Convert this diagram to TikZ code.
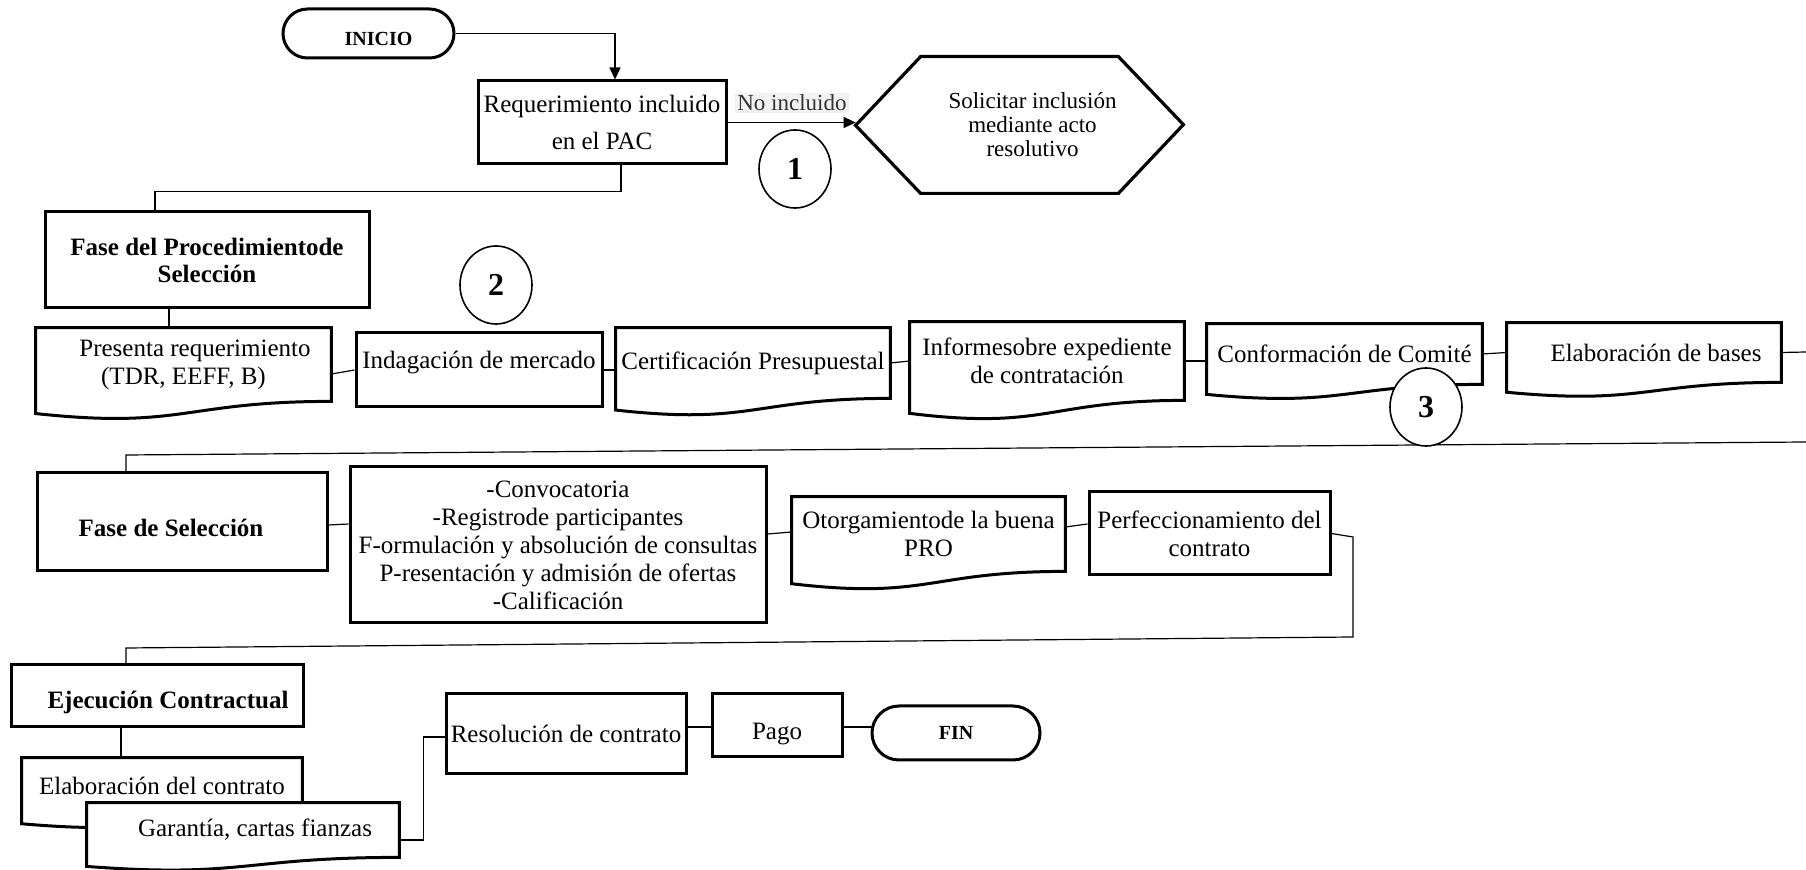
\documentclass[tikz,border=0pt]{standalone}
\usepackage{fontspec}
\setmainfont{Liberation Serif}
\usetikzlibrary{arrows.meta,calc,shapes.geometric,shapes.misc,backgrounds}

\begin{document}
\begin{tikzpicture}[x=0.5pt,y=-0.5pt,
	dims/.style 2 args={minimum width=#1,minimum height=#2},
	box/.style={draw,line width=1.5pt,inner sep=1pt,align=center,font=\fontsize{12.5}{14}\selectfont},
	docbox/.style={inner sep=1pt,align=center,font=\fontsize{12.5}{14}\selectfont},
	docline/.style={draw,fill=white,line width=1.5pt},
	term/.style={rounded rectangle,draw,line width=1.5pt,inner sep=1pt,font=\fontsize{10}{12}\selectfont\bfseries},
	num/.style={ellipse,draw,fill=white,line width=0.8pt,minimum width=36pt,minimum height=39pt,inner sep=0pt,font=\fontsize{16}{16}\selectfont\bfseries},
	link/.style={line width=0.6pt},
	arrow/.style={line width=0.7pt,-{Triangle[length=6pt,width=5.5pt]}}]
	\useasboundingbox (0,0) rectangle (1806,870);

	% inicio
	\node [term,dims={87.5pt}{24.5pt},text height=14pt,text depth=2pt] (inicio) at (368.5,33.5) {\hspace*{10pt}INICIO};
	\node [box,dims={124pt}{41.5pt},font=\fontsize{12.5}{18.5}\selectfont] (req) at (602,122.5) {Requerimiento incluido\\en el PAC};
	\node [align=center,inner sep=0pt,dims={98.5pt}{68pt},font=\fontsize{11.5}{12}\selectfont] (solic) at (1019.5,125) {\hspace*{13pt}Solicitar inclusión\\\hspace*{13pt}mediante acto\\\hspace*{13pt}resolutivo};
	\draw [line width=1.6pt] (solic.north west) -- (solic.north east) -- ++(65,68) -- (solic.south east) -- (solic.south west) -- ++(-65,-68) -- cycle;
	\coordinate (tip) at ([xshift=-32.5pt]solic.west);
	\node [fill=black!5,text=black!80,inner sep=1pt,font=\fontsize{11.5}{13}\selectfont] (noinc) at (792,103) {No incluido};
	\draw [arrow] (inicio.east) -| ([xshift=6.5pt]req.north);
	\draw [arrow] (req.east) -- (req.east -| tip);
	\node [num] (one) at (795,169) {1};

	% fase del procedimiento
	\node [box,dims={162pt}{48pt},font=\fontsize{12.5}{13.5}\selectfont\bfseries] (fproc) at (207,260) {Fase del Procedimientode\\Selección};
	\node [num] (two) at (496,285) {2};
	\node [docbox,dims={147.5pt}{36.5pt}] (pres) at (183.5,364.5) {\hspace*{11.5pt}Presenta requerimiento\\(TDR, EEFF, B)};
	\node [box,dims={123pt}{37pt},text height=9pt,text depth=10pt] (indag) at (479,370) {Indagación de mercado};
	\node [docbox,dims={137pt}{35pt}] (cert) at (753,363) {Certificación Presupuestal};
	\node [docbox,dims={137pt}{39pt}] (inf) at (1047,361) {Informesobre expediente\\de contratación};
	\node [docbox,dims={137.5pt}{30pt}] (conf) at (1344.5,354) {Conformación de Comité};
	\node [docbox,dims={137pt}{29.5pt}] (elab) at (1644,352.5) {\hspace*{12pt}Elaboración de bases};
	\coordinate (rimA) at (1806,352);
	\coordinate (rimB) at (1806,442);
	\coordinate (bendB) at (126,455);
	\draw [link] ([xshift=9.5pt]req.south) -- ++(0,26) -| ([xshift=-26pt]fproc.north);
	\draw [link] ([xshift=-19pt]fproc.south) -- ([xshift=-19pt]fproc.south |- pres.north);
	\draw [link] ([yshift=-4.75pt]pres.east) -- (indag.west);
	\draw [link] (indag.east) -- (indag.east -| cert.west);
	\draw [link] (cert.east) -- (inf.west);
	\draw [link] (inf.east) -- ([yshift=-3.5pt]conf.west);
	\draw [link] (conf.east) -- (elab.west);
	\draw [link] (elab.east) -- (rimA);

	% fase de seleccion
	\node [box,dims={145pt}{49pt},font=\fontsize{12.5}{14}\selectfont\bfseries,text height=17pt,text depth=2pt] (fsel) at (182,522) {Fase de Selección\hspace*{11pt}};
	\node [box,dims={208pt}{78pt}] (conv) at (558,545) {-Convocatoria\\-Registrode participantes\\F-ormulación y absolución de consultas\\P-resentación y admisión de ofertas\\-Calificación};
	\node [docbox,dims={136.5pt}{37pt}] (otor) at (928.5,534) {Otorgamientode la buena\\PRO};
	\node [box,dims={120.5pt}{41.5pt}] (perf) at (1209.5,533.5) {Perfeccionamiento del\\contrato};
	\coordinate (bendC) at (1353,537);
	\coordinate (bendD) at (1353,637);
	\coordinate (bendE) at (126,648);
	\draw [link] (rimB) -- (bendB) -- (bendB |- fsel.north);
	\draw [link] ([yshift=-1.5pt]fsel.east) -- ([yshift=10.5pt]conv.west);
	\draw [link] ([yshift=5.5pt]conv.east) -- ([yshift=1pt]otor.west);
	\draw [link] ([yshift=3.5pt]otor.east) -- ([yshift=4.75pt]perf.west);

	% ejecucion
	\node [box,dims={146pt}{31pt},font=\fontsize{12.5}{14}\selectfont\bfseries,text height=15pt,text depth=2pt] (ejec) at (157,696) {\hspace*{11pt}Ejecución Contractual};
	\node [docbox,dims={140pt}{28pt}] (elabc) at (162,786) {Elaboración del contrato};
	\node [docbox,dims={156pt}{27pt}] (gar) at (243,830) {\hspace*{12pt}Garantía, cartas fianzas};
	\node [box,dims={120pt}{40pt}] (res) at (566,734) {Resolución de contrato};
	\node [box,dims={65pt}{31.5pt},text height=16.5pt,text depth=2pt] (pago) at (777,725.5) {Pago};
	\node [term,dims={86pt}{27pt}] (fin) at (956,733) {FIN};
	\draw [link] (perf.east) -- (bendC) -- (bendD) -- (bendE) -- (bendE |- ejec.north);
	\draw [link] ([xshift=-18pt]ejec.south) -- ([xshift=-18pt]ejec.south |- elabc.north);
	\draw [link] ([yshift=-5pt]gar.east) -- ++(24,0) |- ([yshift=-1.5pt]res.west);
	\draw [link] ([yshift=3.5pt]res.east) -- ([yshift=3.5pt]res.east -| pago.west);
	\draw [link] ([yshift=-0.75pt]pago.east) -- ([yshift=-0.75pt]pago.east -| fin.west);

	\node [num] (three) at (1426,407) {3};

	% document outlines
	\begin{pgfonlayer}{background}
		\foreach \n in {pres, cert, inf, conf, elab, otor, elabc, gar} {
			\draw [docline] (\n.north west) -- (\n.north east) -- (\n.south east) .. controls (\n.south) and ($(\n.north)!1.381!(\n.south)$) .. ($(\n.north west)!1.1646!(\n.south west)$) -- cycle;
		}
	\end{pgfonlayer}
\end{tikzpicture}
\end{document}
